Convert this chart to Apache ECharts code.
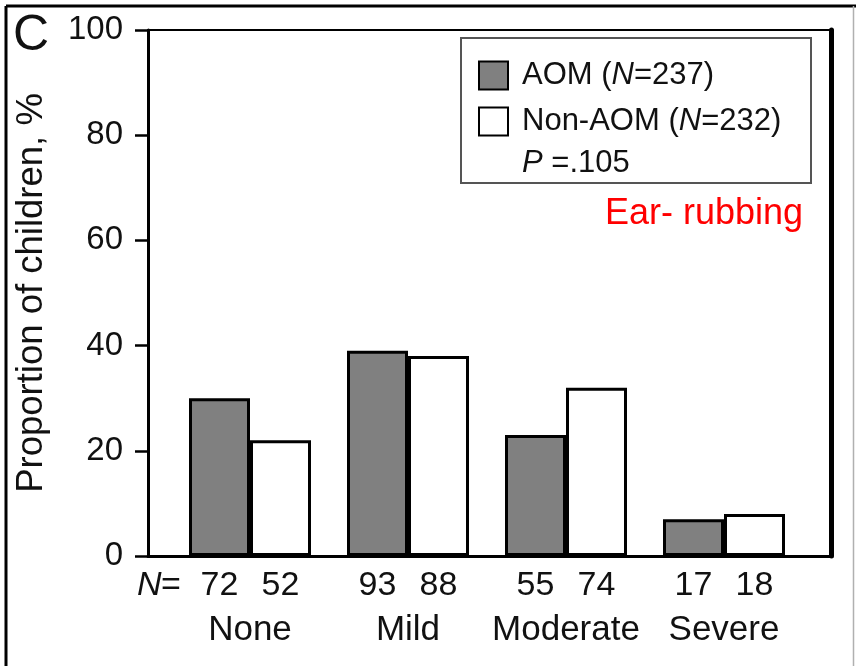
<!DOCTYPE html>
<html>
<head>
<meta charset="utf-8">
<script src="https://cdn.jsdelivr.net/npm/echarts@6/dist/echarts.min.js"></script>
<style>
  html, body { margin: 0; padding: 0; background: #fff; }
  #myChart { width: 856px; height: 666px; }
</style>
</head>
<body>
<div id="myChart"></div>
<script>
// data
var categories = ['None', 'Mild', 'Moderate', 'Severe'];
var seriesNames = ['AOM', 'Non-AOM'];
var groupTotals = [237, 232];
var aomValues = [30, 39, 23, 7];
var nonAomValues = [22, 38, 32, 8];
var aomCounts = [72, 93, 55, 17];
var nonAomCounts = [52, 88, 74, 18];
var yTicks = [0, 20, 40, 60, 80, 100];
var pText = '.105';

var font = 'Liberation Sans, Arial, sans-serif';
var ink = '#111';

var myChart = echarts.init(document.getElementById('myChart'), null, { renderer: 'canvas' });

var option = {
    animation: false,
    backgroundColor: '#fff',
    textStyle: { fontFamily: font, color: ink },
    title: [
        { text: 'C', left: 13, top: 11, padding: 0,
          textStyle: { fontSize: 50, fontWeight: 'normal', color: ink, fontFamily: font } },
        { text: 'Ear- rubbing', right: 53, top: 196, padding: 0,
          textStyle: { fontSize: 36, fontWeight: 'normal', color: '#ff0000', fontFamily: font } }
    ],
    legend: {
        orient: 'vertical',
        left: 478, top: 60,
        padding: 0,
        icon: 'rect',
        itemWidth: 29, itemHeight: 28, itemGap: 15,
        data: seriesNames,
        formatter: function (name) {
            var i = seriesNames.indexOf(name);
            return '{t|' + name + ' (}{i|N}{t|=' + groupTotals[i] + ')}';
        },
        textStyle: {
            fontFamily: font, fontSize: 31, color: ink, padding: [0, 0, 0, 9],
            rich: {
                t: { fontFamily: font, fontSize: 31, color: ink },
                i: { fontFamily: font, fontSize: 31, color: ink, fontStyle: 'italic' }
            }
        }
    },
    graphic: [
        // outer figure border
        { type: 'line', shape: { x1: 6, y1: 6, x2: 856, y2: 6 }, style: { stroke: '#000', lineWidth: 3 } },
        { type: 'line', shape: { x1: 6, y1: 6, x2: 6, y2: 666 }, style: { stroke: '#000', lineWidth: 3 } },
        { type: 'line', shape: { x1: 853.5, y1: 6, x2: 853.5, y2: 666 }, style: { stroke: '#b0b0b0', lineWidth: 1.5 } },
        // legend box
        { type: 'rect', shape: { x: 461, y: 38, width: 350, height: 145 },
          style: { fill: 'rgba(0,0,0,0)', stroke: '#555', lineWidth: 2 }, z: 10 },
        { type: 'text', left: 522, top: 148, z: 10,
          style: {
              text: '{i|P} =' + pText,
              font: '31px ' + font,
              fill: ink,
              rich: {
                  i: { fontStyle: 'italic', fontSize: 31, fontFamily: font, fill: ink }
              }
          } }
    ],
    grid: [
        // frame
        { left: 148, top: 30, right: 25, bottom: 110, containLabel: false },
        // bars
        { left: 171, top: 30, right: 53, bottom: 110, containLabel: false }
    ],
    xAxis: [
        { gridIndex: 0, type: 'value', min: 0, max: 1, position: 'bottom',
          axisLine: { show: true, onZero: false, lineStyle: { color: '#000', width: 3 } },
          axisTick: { show: false }, axisLabel: { show: false }, splitLine: { show: false } },
        { gridIndex: 0, type: 'value', min: 0, max: 1, position: 'top',
          axisLine: { show: true, onZero: false, lineStyle: { color: '#000', width: 2 } },
          axisTick: { show: false }, axisLabel: { show: false }, splitLine: { show: false } },
        { gridIndex: 1, type: 'category', data: categories,
          axisLine: { show: false }, axisTick: { show: false }, splitLine: { show: false },
          axisLabel: {
              margin: 7,
              interval: 0,
              formatter: function (value, idx) {
                  var head = idx === 0 ? '{it|N}{eq|=}' : '{sp| }';
                  return head + '{a|' + aomCounts[idx] + '}{b|' + nonAomCounts[idx] + '}{sp| }\n{c|' + value + '}';
              },
              rich: {
                  it: { fontFamily: font, fontSize: 34, color: ink, fontStyle: 'italic', width: 24, align: 'left', lineHeight: 45 },
                  eq: { fontFamily: font, fontSize: 34, color: ink, width: 28, align: 'left', lineHeight: 45 },
                  sp: { fontFamily: font, fontSize: 34, color: ink, width: 52, lineHeight: 45 },
                  a: { fontFamily: font, fontSize: 34, color: ink, width: 61, align: 'center', lineHeight: 45 },
                  b: { fontFamily: font, fontSize: 34, color: ink, width: 61, align: 'center', lineHeight: 45 },
                  c: { fontFamily: font, fontSize: 35, color: ink, width: 226, align: 'center', lineHeight: 45 }
              }
          } }
    ],
    yAxis: [
        { gridIndex: 0, type: 'value', min: 0, max: 100, interval: 20, position: 'left',
          name: 'Proportion of children, %', nameLocation: 'middle', nameGap: 98,
          nameTextStyle: { fontFamily: font, fontSize: 36.5, color: ink },
          axisLine: { show: true, onZero: false, lineStyle: { color: '#000', width: 3 } },
          axisTick: { show: true, inside: false, length: 13, lineStyle: { color: '#000', width: 2.5 } },
          axisLabel: { margin: 25, fontFamily: font, fontSize: 33, color: ink,
                       customValues: yTicks },
          splitLine: { show: false } },
        { gridIndex: 0, type: 'value', min: 0, max: 100, position: 'right',
          axisLine: { show: true, onZero: false, lineStyle: { color: '#000', width: 5 } },
          axisTick: { show: false }, axisLabel: { show: false }, splitLine: { show: false } },
        { gridIndex: 1, type: 'value', min: 0, max: 100, show: false, splitLine: { show: false } }
    ],
    series: [
        { name: seriesNames[0], type: 'bar', xAxisIndex: 2, yAxisIndex: 2,
          data: aomValues, barWidth: 61, barGap: '0%',
          itemStyle: { color: '#808080', borderColor: '#000', borderWidth: 3 } },
        { name: seriesNames[1], type: 'bar', xAxisIndex: 2, yAxisIndex: 2,
          data: nonAomValues, barWidth: 61, barGap: '0%',
          itemStyle: { color: '#fff', borderColor: '#000', borderWidth: 3 } }
    ]
};

myChart.setOption(option);
window.addEventListener('resize', function () { myChart.resize(); });
</script>
</body>
</html>
